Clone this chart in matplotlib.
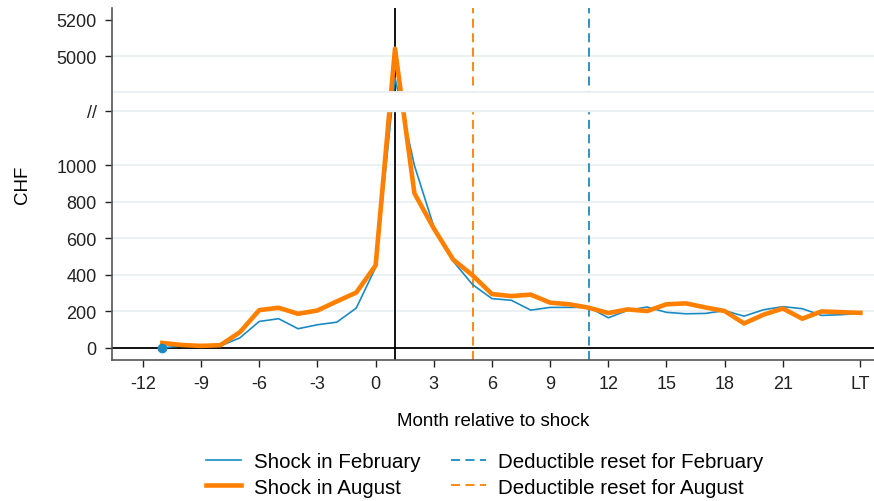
import numpy as np
import matplotlib.pyplot as plt

plt.rcParams['font.family'] = ['Liberation Sans', 'DejaVu Sans']

months = list(range(-11, 26))  # 25 = LT
feb = [0, 11, 15, 11, 55, 145, 160, 105, 127, 141, 218, 440, 4880, 1000, 665,
       475, 347, 270, 261, 207, 222, 222, 222, 165, 206, 224, 195, 187, 189,
       204, 174, 209, 226, 215, 178, 182, 189]
aug = [27, 16, 11, 15, 86, 207, 220, 187, 205, 255, 303, 452, 5040, 848, 655,
       484, 398, 295, 284, 292, 248, 239, 220, 191, 211, 202, 239, 244, 222,
       202, 134, 182, 216, 160, 200, 196, 192]
xticks = [-12, -9, -6, -3, 0, 3, 6, 9, 12, 15, 18, 21, 25]
xticklabels = ['-12', '-9', '-6', '-3', '0', '3', '6', '9', '12', '15', '18', '21', 'LT']
shock_month = 1
reset_aug = 5
reset_feb = 11

BLUE = '#1a8bc2'
ORANGE = '#ff8000'
GRID = '#eaf0f2'


def brk(v):
    # broken axis: values above the gap are shifted down
    v = np.asarray(v, dtype=float)
    return np.where(v > 3000, v - 3400, v)


fig = plt.figure(figsize=(8.74, 5.02), dpi=100)
ax = fig.add_axes([0.128, 0.281, 0.872, 0.701])

for g in [200, 400, 600, 800, 1000, 1300, 1400, 1600]:
    ax.axhline(g, color=GRID, lw=1.3, zorder=1)

ax.axhline(0, color='black', lw=1.3, zorder=2)
ax.axvline(shock_month, color='black', lw=1.3, zorder=2)
ax.axvline(reset_aug, color=ORANGE, lw=1.3, ls=(0, (5, 3)), zorder=2)
ax.axvline(reset_feb, color=BLUE, lw=1.3, ls=(0, (5, 3)), zorder=2)

ax.plot(months, brk(feb), color=BLUE, lw=1.2, zorder=3)
ax.plot(months, brk(aug), color=ORANGE, lw=3.3, zorder=4)
ax.plot(months[0], brk(feb)[0], 'o', color=BLUE, ms=6, zorder=5)

# gap band of the broken axis
ax.axhspan(1300, 1400, xmin=0.016, xmax=1, color='white', zorder=6)
ax.axhline(1300, xmin=0.016, color=GRID, lw=1.3, zorder=7)
ax.axhline(1400, xmin=0.016, color=GRID, lw=1.3, zorder=7)

ax.set_xlim(-13.6, 25.7)
ax.set_ylim(-66, 1863)
ax.set_xticks(xticks)
ax.set_xticklabels(xticklabels)
ax.set_yticks([0, 200, 400, 600, 800, 1000, 1300, 1600, 1800])
ax.set_yticklabels(['0', '200', '400', '600', '800', '1000', '//', '5000', '5200'])
ax.tick_params(labelsize=13, length=5, width=1, colors='#222222', pad=6)

for s in ['top', 'right']:
    ax.spines[s].set_visible(False)
for s in ['left', 'bottom']:
    ax.spines[s].set_color('#555555')
    ax.spines[s].set_linewidth(1.2)

ax.set_xlabel('Month relative to shock', fontsize=13.5, labelpad=14)
ax.set_ylabel('CHF', fontsize=13.5, labelpad=18)

h1, = ax.plot([], [], color=BLUE, lw=1.2)
h2, = ax.plot([], [], color=ORANGE, lw=3.3)
h3, = ax.plot([], [], color=BLUE, lw=1.3, ls=(0, (5, 3)))
h4, = ax.plot([], [], color=ORANGE, lw=1.3, ls=(0, (5, 3)))
ax.legend([h1, h2, h3, h4],
          ['Shock in February', 'Shock in August',
           'Deductible reset for February', 'Deductible reset for August'],
          loc='upper center', bbox_to_anchor=(0.4895, -0.21), ncol=2,
          frameon=False, fontsize=14.8, handlelength=1.7, columnspacing=1.5,
          labelspacing=0.3, handletextpad=0.6)

fig.savefig('out.png', dpi=100)
